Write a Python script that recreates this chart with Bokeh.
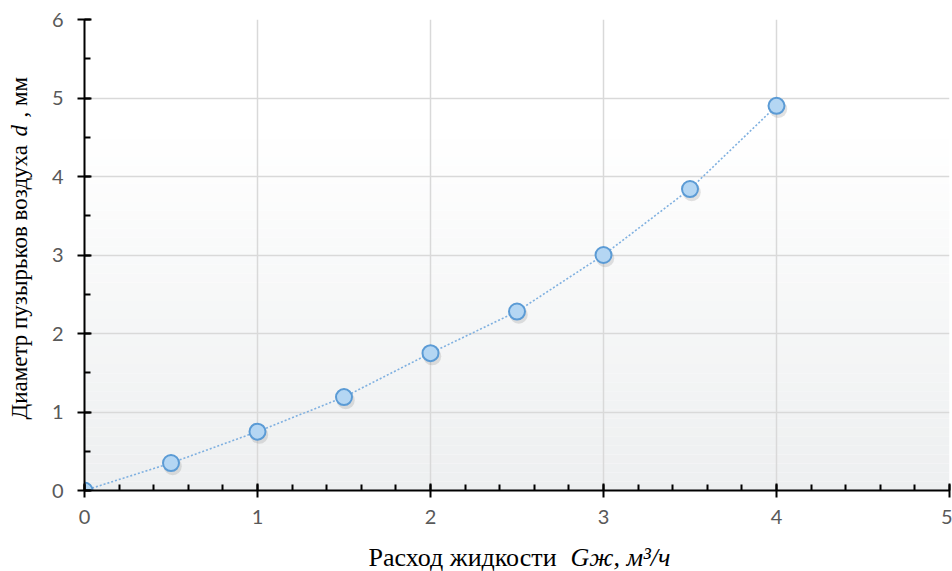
import numpy as np
from bokeh.plotting import figure
from bokeh.models import Label, FixedTicker, Range1d
from bokeh.layouts import row, column
from bokeh.embed import file_html
from bokeh.resources import INLINE

# data
flow = [0, 0.5, 1, 1.5, 2, 2.5, 3, 3.5, 4]
diameter = [0.0, 0.35, 0.75, 1.19, 1.75, 2.28, 3.0, 3.84, 4.9]
x_ticks = [0, 1, 2, 3, 4, 5]
y_ticks = [0, 1, 2, 3, 4, 5, 6]

x_title_main = "Расход жидкости "
x_title_ital = "Gж, м³/ч"
y_title_main = "Диаметр пузырьков воздуха "
y_title_ital = "d"
y_title_tail = ", мм"

TOTAL_W, TOTAL_H = 952, 571
LEFT_W = 40          # strip holding the y title
BOTTOM_H = 31        # strip holding the x title
MAIN_W, MAIN_H = TOTAL_W - LEFT_W, TOTAL_H - BOTTOM_H

p = figure(width=MAIN_W, height=MAIN_H, output_backend="svg", toolbar_location=None,
           x_range=Range1d(0, 5), y_range=Range1d(0, 6),
           min_border_left=84 - LEFT_W, min_border_right=3, min_border_top=19,
           min_border_bottom=MAIN_H - 490)
p.frame_align = False
p.outline_line_color = None
p.background_fill_color = "white"
p.border_fill_color = "white"

# background gradient (decorative)
n = 40
g_top = 4.6
edges = np.linspace(0, g_top, n + 1)
cols = []
for i in range(n):
    t = 1 - (edges[i] + edges[i + 1]) / 2 / g_top
    c0 = np.array([255, 255, 255])
    c1 = np.array([237, 239, 240])
    c = c0 + (c1 - c0) * t
    cols.append("#%02x%02x%02x" % tuple(int(round(v)) for v in c))
bg = p.quad(left=0, right=5, bottom=edges[:-1], top=edges[1:], fill_color=cols, line_color=None)
bg.level = "image"

# grid
p.xgrid.ticker = FixedTicker(ticks=x_ticks)
p.ygrid.ticker = FixedTicker(ticks=y_ticks)
p.grid.grid_line_color = "#d9d9d9"
p.grid.grid_line_width = 1.5

# axes
for ax in (p.xaxis[0], p.yaxis[0]):
    ax.axis_line_color = "black"
    ax.axis_line_width = 2
    ax.major_tick_line_color = "black"
    ax.major_tick_line_width = 2
    ax.minor_tick_line_color = "black"
    ax.minor_tick_line_width = 2
    ax.major_tick_in = 7
    ax.major_tick_out = 7
    ax.minor_tick_in = 6
    ax.minor_tick_out = 0
    ax.major_label_text_font = "Lato"
    ax.major_label_text_font_size = "20px"
    ax.major_label_text_color = "#595959"

p.xaxis.ticker = FixedTicker(ticks=x_ticks, minor_ticks=list(np.round(np.arange(0, 5.01, 0.2), 2)))
p.yaxis.ticker = FixedTicker(ticks=y_ticks, minor_ticks=list(np.round(np.arange(0, 6.01, 0.5), 2)))
p.xaxis.major_label_standoff = 12
p.yaxis.major_label_standoff = 14

# line
p.line(flow, diameter, line_color="#7fb0e0", line_width=1.6, line_dash="2 2")

# markers: shadow + marker
shadow_y = [v - 0.04 for v in diameter]
p.scatter([f + 0.01 for f in flow], shadow_y, size=18, fill_color="#8a8a8a", fill_alpha=0.25, line_color=None)
p.scatter(flow, diameter, size=16, fill_color="#b4d6f3", line_color="#5b9bd5", line_width=2)

serif = "Liberation Serif"


def lab(**kw):
    base = dict(x_units="screen", y_units="screen", text_font=serif,
                text_color="black", text_align="left", text_baseline="alphabetic")
    base.update(kw)
    return Label(**base)


def strip(w, h):
    f = figure(width=w, height=h, output_backend="svg", toolbar_location=None,
               x_range=Range1d(0, 1), y_range=Range1d(0, 1),
               x_axis_type=None, y_axis_type=None,
               min_border_left=0, min_border_right=0, min_border_top=0, min_border_bottom=0)
    f.frame_align = False
    f.outline_line_color = None
    f.background_fill_color = "white"
    f.border_fill_color = "white"
    f.xgrid.visible = False
    f.ygrid.visible = False
    return f


# x title strip (below main plot)
px = strip(MAIN_W, BOTTOM_H)
XFS = "26px"
base = 14
px.add_layout(lab(x=368 - LEFT_W, y=base, text=x_title_main, text_font_size=XFS))
px.add_layout(lab(x=570 - LEFT_W, y=base, text=x_title_ital, text_font_size=XFS,
                  text_font_style="italic"))

# y title strip (left)
py = strip(LEFT_W, TOTAL_H)
YFS = "23px"
bx = 19
py.add_layout(lab(x=bx, y=TOTAL_H - 419, text=y_title_main, angle=np.pi / 2, text_font_size=YFS))
py.add_layout(lab(x=bx, y=TOTAL_H - 136, text=y_title_ital, angle=np.pi / 2, text_font_size=YFS,
                  text_font_style="italic"))
py.add_layout(lab(x=bx, y=TOTAL_H - 117, text=y_title_tail, angle=np.pi / 2, text_font_size=YFS))

layout = row(py, column(p, px, spacing=0), spacing=0)

open("out.html", "w").write(file_html(layout, INLINE))
